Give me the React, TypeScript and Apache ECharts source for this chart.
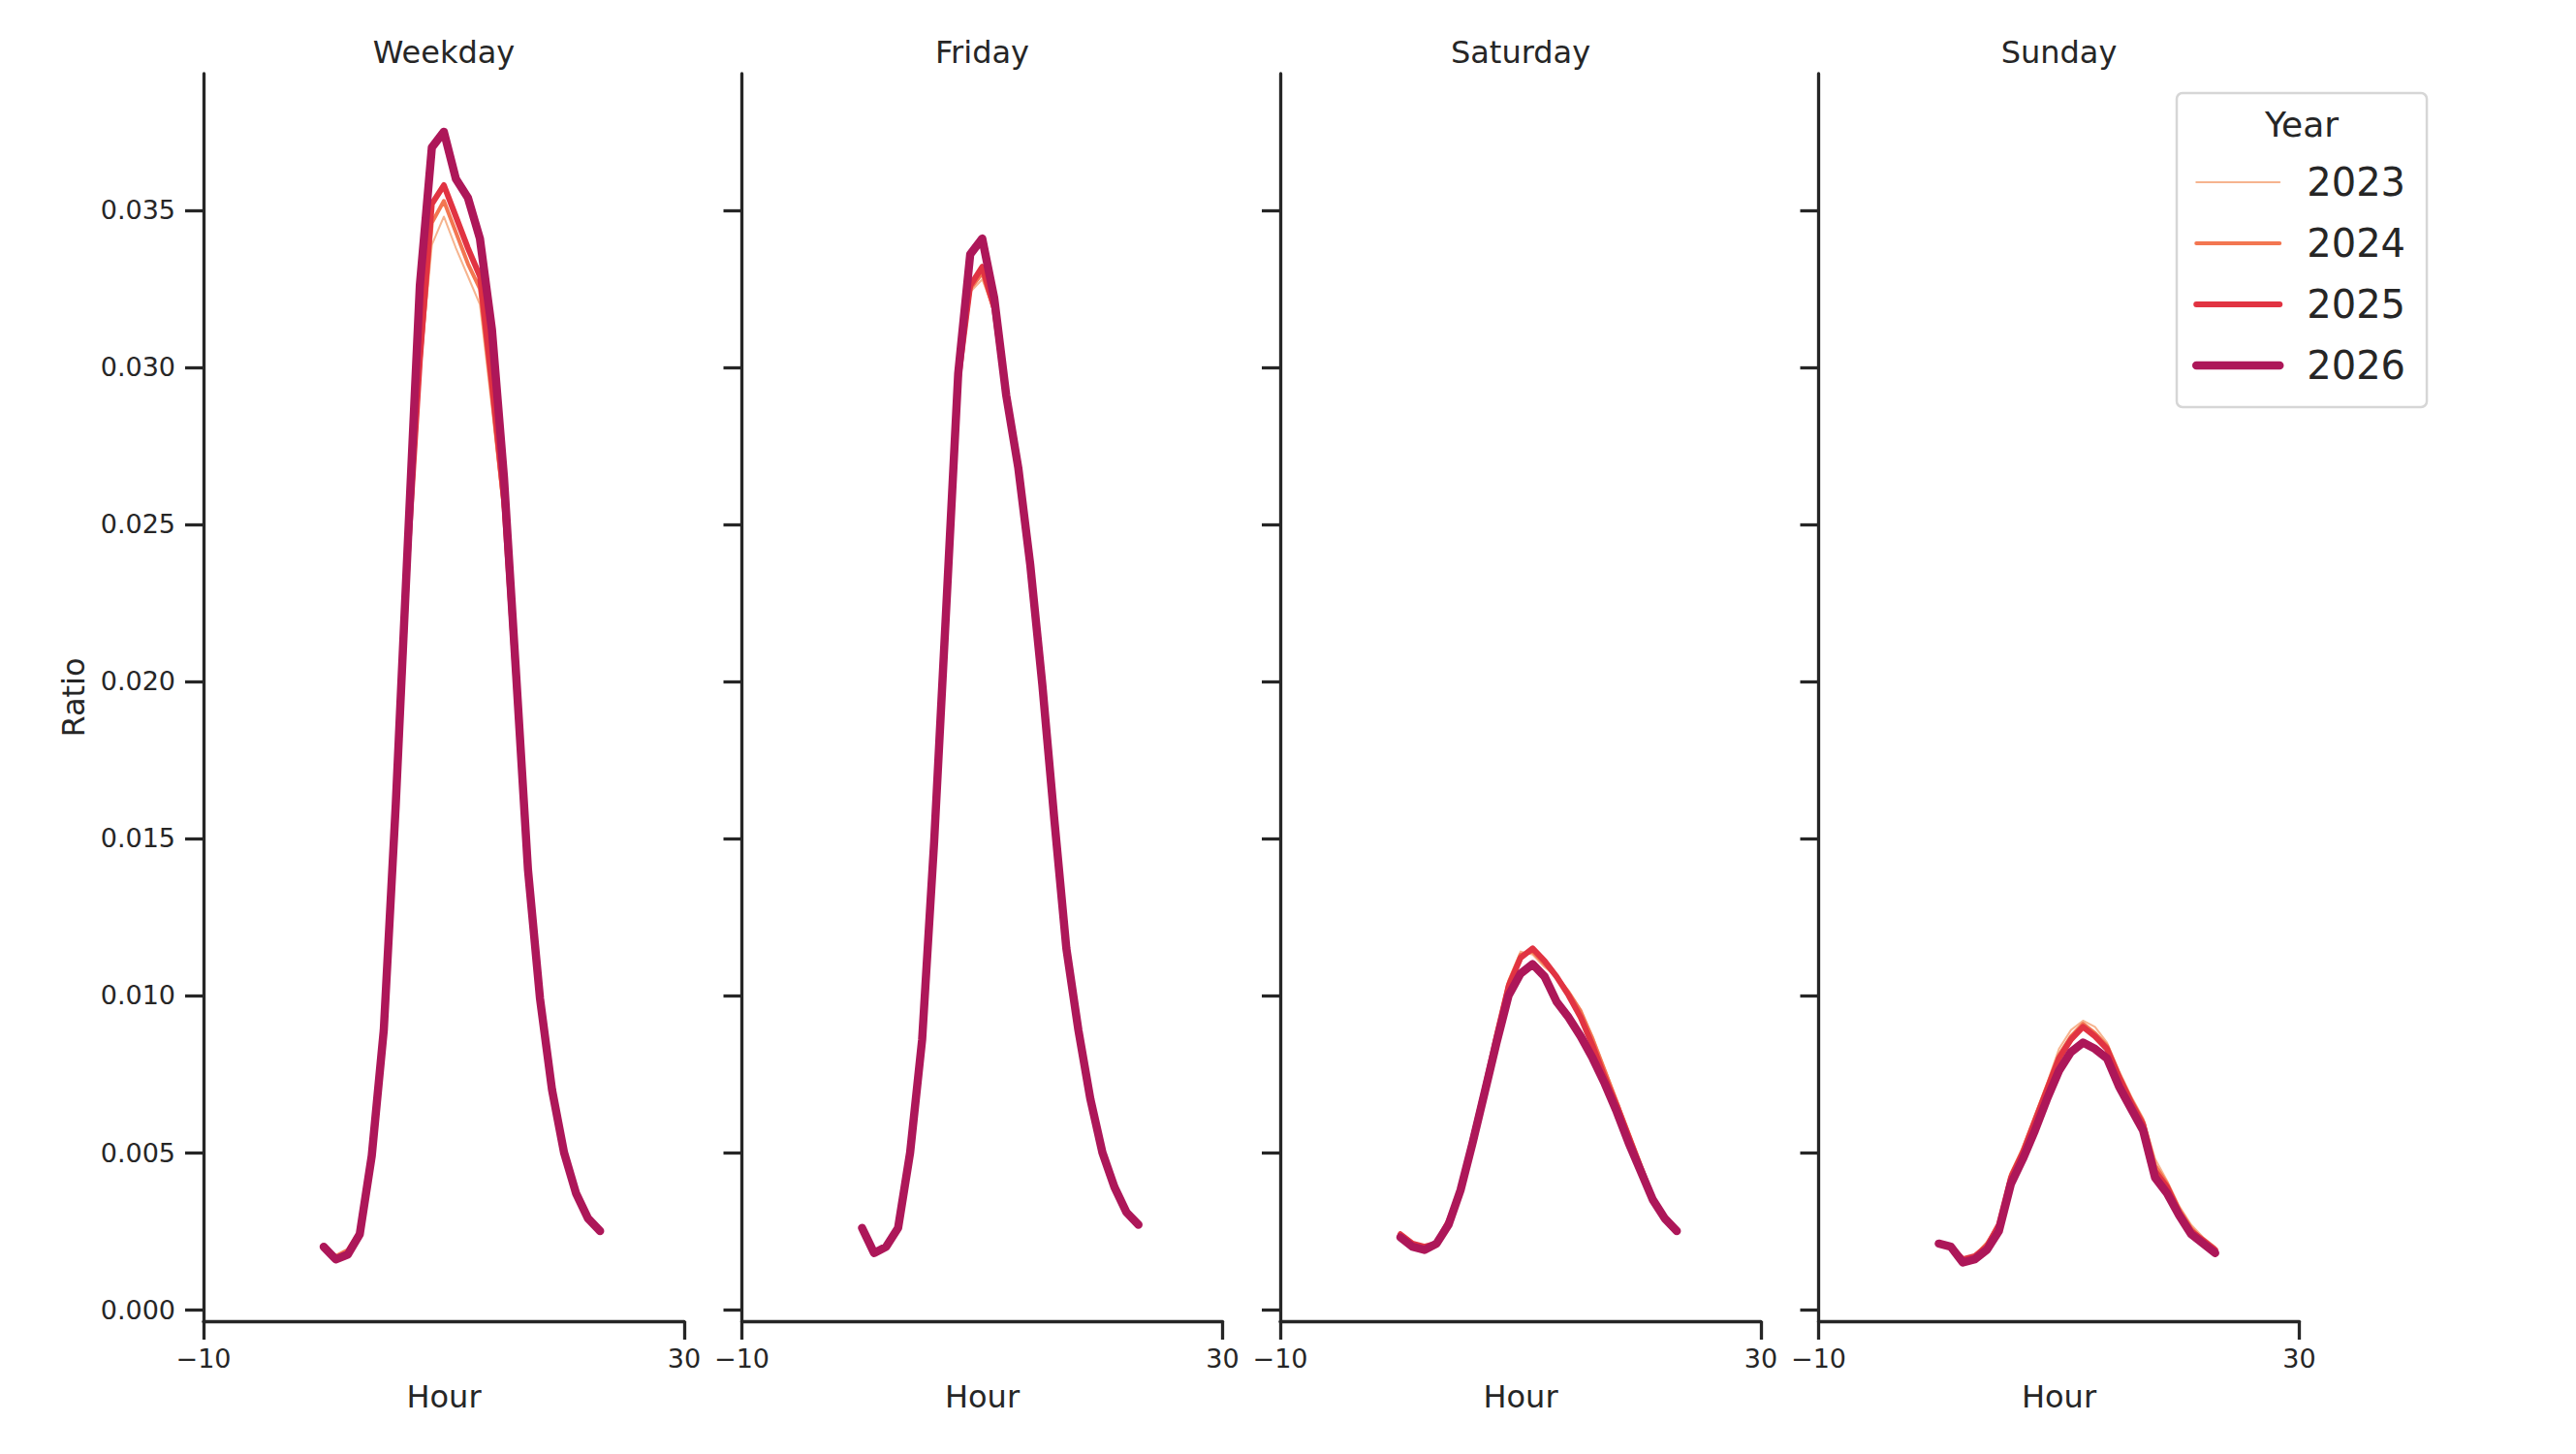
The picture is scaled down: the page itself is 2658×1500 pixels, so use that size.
import { useEffect, useRef } from "react"
import * as echarts from "echarts"

const HOURS = [0, 1, 2, 3, 4, 5, 6, 7, 8, 9, 10, 11, 12, 13, 14, 15, 16, 17, 18, 19, 20, 21, 22, 23]
const PANELS = ["Weekday", "Friday", "Saturday", "Sunday"]
const YEARS = ["2023", "2024", "2025", "2026"]
const YEAR_COLORS = ["#f6b48f", "#f37651", "#e13342", "#ad1759"]
const YEAR_WIDTHS = [2, 4, 6, 8.5]
const X_TICKS = [-10, 30]
const Y_TICKS = [0, 0.005, 0.01, 0.015, 0.02, 0.025, 0.03, 0.035]

// ratios per hour, one array per year, for each panel
const WEEKDAY = [
  [0.0020, 0.0017, 0.0019, 0.0025, 0.0049, 0.0088, 0.0156, 0.0236, 0.0298, 0.0339, 0.0348, 0.0338, 0.0329, 0.0320, 0.0287, 0.0252, 0.0198, 0.0139, 0.0099, 0.0070, 0.0050, 0.0037, 0.0029, 0.0025],
  [0.0020, 0.0017, 0.0019, 0.0025, 0.0049, 0.0088, 0.0157, 0.0238, 0.0300, 0.0346, 0.0353, 0.0343, 0.0333, 0.0325, 0.0291, 0.0255, 0.0199, 0.0139, 0.0099, 0.0070, 0.0050, 0.0037, 0.0029, 0.0025],
  [0.0020, 0.0016, 0.0018, 0.0024, 0.0049, 0.0088, 0.0158, 0.0240, 0.0302, 0.0352, 0.0358, 0.0348, 0.0338, 0.0329, 0.0295, 0.0258, 0.0200, 0.0140, 0.0099, 0.0070, 0.0050, 0.0037, 0.0029, 0.0025],
  [0.0020, 0.0016, 0.00175, 0.0024, 0.0049, 0.0089, 0.0161, 0.0244, 0.0326, 0.0370, 0.0375, 0.0360, 0.0354, 0.0341, 0.0312, 0.0265, 0.0203, 0.0140, 0.0099, 0.0070, 0.0050, 0.0037, 0.0029, 0.0025],
]

const FRIDAY = [
  [0.0026, 0.0018, 0.0020, 0.0026, 0.0050, 0.0086, 0.0148, 0.0221, 0.0294, 0.0324, 0.0328, 0.0318, 0.0290, 0.0268, 0.0237, 0.0199, 0.0156, 0.0115, 0.0089, 0.0067, 0.0050, 0.0039, 0.0031, 0.0027],
  [0.0026, 0.0018, 0.0020, 0.0026, 0.0050, 0.0086, 0.0148, 0.0221, 0.0295, 0.0325, 0.0330, 0.0318, 0.0290, 0.0268, 0.0237, 0.0199, 0.0156, 0.0115, 0.0089, 0.0067, 0.0050, 0.0039, 0.0031, 0.0027],
  [0.0026, 0.0018, 0.0020, 0.0026, 0.0050, 0.0086, 0.0149, 0.0222, 0.0296, 0.0326, 0.0332, 0.0319, 0.0291, 0.0268, 0.0237, 0.0199, 0.0156, 0.0115, 0.0089, 0.0067, 0.0050, 0.0039, 0.0031, 0.0027],
  [0.0026, 0.0018, 0.0020, 0.0026, 0.0050, 0.0086, 0.0149, 0.0223, 0.0298, 0.0336, 0.0341, 0.0322, 0.0291, 0.0268, 0.0237, 0.0199, 0.0156, 0.0115, 0.0089, 0.0067, 0.0050, 0.0039, 0.0031, 0.0027],
]

const SATURDAY = [
  [0.0024, 0.0021, 0.0020, 0.0021, 0.0028, 0.0038, 0.0054, 0.0071, 0.0089, 0.0105, 0.0114, 0.0113, 0.0109, 0.0106, 0.0101, 0.0095, 0.0087, 0.0077, 0.0067, 0.0056, 0.0046, 0.0036, 0.0029, 0.0025],
  [0.0024, 0.0021, 0.0020, 0.0021, 0.0028, 0.0038, 0.0054, 0.0070, 0.0088, 0.0104, 0.0113, 0.0114, 0.0110, 0.0106, 0.0101, 0.0095, 0.0086, 0.0076, 0.0066, 0.0056, 0.0046, 0.0036, 0.0029, 0.0025],
  [0.0024, 0.0021, 0.0020, 0.0021, 0.0028, 0.0038, 0.0054, 0.0070, 0.0087, 0.0103, 0.0112, 0.0115, 0.0111, 0.0106, 0.0100, 0.0093, 0.0084, 0.0074, 0.0065, 0.0055, 0.0045, 0.0035, 0.0029, 0.0025],
  [0.0023, 0.0020, 0.0019, 0.0021, 0.0027, 0.0038, 0.0053, 0.0069, 0.0085, 0.0100, 0.0107, 0.0110, 0.0106, 0.0098, 0.0093, 0.0087, 0.0080, 0.0072, 0.0063, 0.0053, 0.0044, 0.0035, 0.0029, 0.0025],
]

const SUNDAY = [
  [0.0021, 0.0020, 0.0016, 0.0017, 0.0021, 0.0028, 0.0043, 0.0052, 0.0062, 0.0072, 0.0083, 0.0089, 0.0092, 0.0090, 0.0085, 0.0076, 0.0068, 0.0061, 0.0048, 0.0041, 0.0033, 0.0027, 0.0023, 0.0020],
  [0.0021, 0.0020, 0.0016, 0.0017, 0.0021, 0.0027, 0.0043, 0.0051, 0.0061, 0.0071, 0.0081, 0.0087, 0.0091, 0.0088, 0.0084, 0.0075, 0.0067, 0.0060, 0.0046, 0.0040, 0.0032, 0.0026, 0.0022, 0.0019],
  [0.0021, 0.0020, 0.0016, 0.0017, 0.0020, 0.0027, 0.0042, 0.0050, 0.0060, 0.0070, 0.0080, 0.0086, 0.0090, 0.0087, 0.0083, 0.0074, 0.0066, 0.0059, 0.0044, 0.0039, 0.0031, 0.0025, 0.0022, 0.0019],
  [0.0021, 0.0020, 0.0015, 0.0016, 0.0019, 0.0025, 0.0040, 0.0048, 0.0057, 0.0067, 0.0076, 0.0082, 0.0085, 0.0083, 0.0080, 0.0071, 0.0064, 0.0057, 0.0042, 0.0037, 0.0030, 0.0024, 0.0021, 0.0018],
]

const PANEL_DATA = [WEEKDAY, FRIDAY, SATURDAY, SUNDAY]

const INK = "#262626"
const FONT = "DejaVu Sans"
const GRID_LEFT = 210
const GRID_STEP = 555.5
const GRID_WIDTH = 496
const GRID_TOP = 76
const GRID_HEIGHT = 1287

const minus = (v: number) => (v < 0 ? "\u2212" + Math.abs(v) : String(v))

export default function App() {
  const chartRef = useRef<HTMLDivElement>(null)

  useEffect(() => {
    if (!chartRef.current) return
    const chart = echarts.init(chartRef.current, null, { renderer: "svg" })

    const axisLine = { show: true, onZero: false, lineStyle: { color: INK, width: 3.3 } }
    const axisTick = (values: number[]) => ({
      show: true,
      customValues: values,
      length: 19,
      lineStyle: { color: INK, width: 3.3 },
    })

    const grids = PANELS.map((_, i) => ({
      left: GRID_LEFT + i * GRID_STEP,
      top: GRID_TOP,
      width: GRID_WIDTH,
      height: GRID_HEIGHT,
    }))

    const xAxes = PANELS.map((_, i) => ({
      type: "value",
      gridIndex: i,
      min: -10,
      max: 30,
      axisLine,
      axisTick: axisTick(X_TICKS),
      axisLabel: {
        customValues: X_TICKS,
        formatter: minus,
        color: INK,
        fontSize: 27,
        fontFamily: FONT,
        margin: 25,
      },
      splitLine: { show: false },
      name: "Hour",
      nameLocation: "middle",
      nameGap: 62,
      nameTextStyle: { color: INK, fontSize: 32, fontFamily: FONT },
    }))

    const yAxes = PANELS.map((_, i) => ({
      type: "value",
      gridIndex: i,
      min: -0.00037,
      max: 0.03935,
      axisLine,
      axisTick: axisTick(Y_TICKS),
      axisLabel: {
        show: i === 0,
        customValues: Y_TICKS,
        formatter: (v: number) => v.toFixed(3),
        color: INK,
        fontSize: 27,
        fontFamily: FONT,
        margin: 29,
      },
      splitLine: { show: false },
      name: i === 0 ? "Ratio" : "",
      nameLocation: "middle",
      nameRotate: 90,
      nameGap: 118,
      nameTextStyle: { color: INK, fontSize: 32, fontFamily: FONT },
    }))

    const series = PANEL_DATA.flatMap((panel, i) =>
      panel.map((values, y) => ({
        type: "line",
        name: YEARS[y],
        xAxisIndex: i,
        yAxisIndex: i,
        data: HOURS.map((h, k) => [h, values[k]]),
        symbol: "none",
        showSymbol: false,
        silent: true,
        lineStyle: { color: YEAR_COLORS[y], width: YEAR_WIDTHS[y], cap: "round", join: "round" },
        itemStyle: { color: YEAR_COLORS[y] },
      }))
    )

    chart.setOption({
      animation: false,
      textStyle: { fontFamily: FONT },
      grid: grids,
      xAxis: xAxes,
      yAxis: yAxes,
      series,
      legend: {
        orient: "vertical",
        left: 2246,
        top: 96,
        padding: [72, 22, 23, 16],
        itemWidth: 86,
        itemHeight: 14,
        itemGap: 23,
        selectedMode: false,
        data: YEARS,
        backgroundColor: "rgba(255,255,255,0.8)",
        borderColor: "#d6d6d6",
        borderWidth: 2.5,
        borderRadius: 6,
        itemStyle: { opacity: 0 },
        lineStyle: { width: "inherit", cap: "round" },
        textStyle: { color: INK, fontSize: 40, lineHeight: 40, fontFamily: FONT, padding: [0, 0, 0, 23] },
      },
      graphic: [
        ...PANELS.map((p, i) => ({
          type: "text",
          x: GRID_LEFT + i * GRID_STEP + GRID_WIDTH / 2,
          y: 54,
          style: {
            text: p,
            fill: INK,
            fontSize: 32,
            fontFamily: FONT,
            textAlign: "center",
            textVerticalAlign: "middle",
          },
        })),
        {
          type: "text",
          x: 2375,
          y: 128,
          z: 100,
          style: {
            text: "Year",
            fill: INK,
            fontSize: 36,
            fontFamily: FONT,
            textAlign: "center",
            textVerticalAlign: "middle",
          },
        },
      ],
    })

    return () => chart.dispose()
  }, [])

  return (
    <div
      ref={chartRef}
      style={{ position: "fixed", left: 0, top: 0, width: 2658, height: 1500, background: "#fff" }}
    />
  )
}
